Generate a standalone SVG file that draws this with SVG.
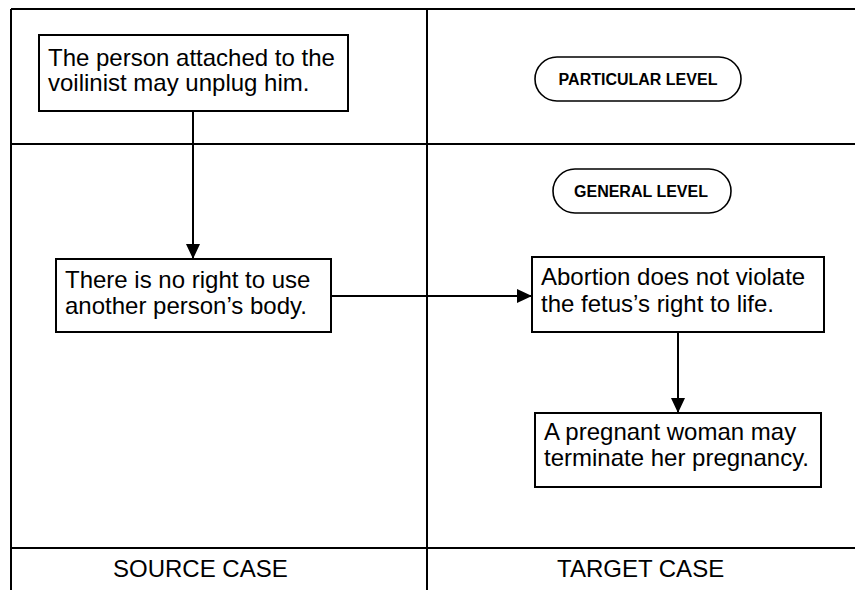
<svg xmlns="http://www.w3.org/2000/svg" width="855" height="590" viewBox="0 0 855 590">
<defs>
<style>
.frame{stroke:#000;stroke-width:2;fill:none}
.box{fill:#fff;stroke:#000;stroke-width:2}
.pill{fill:#fff;stroke:#000;stroke-width:1.6}
.t{font-family:"Liberation Sans",Arial,sans-serif;font-size:24px;fill:#000}
.p{font-family:"Liberation Sans",Arial,sans-serif;font-size:16px;font-weight:bold;fill:#000;text-anchor:middle}
.c{font-family:"Liberation Sans",Arial,sans-serif;font-size:24px;fill:#000}
.conn{stroke:#000;stroke-width:2;fill:none}
</style>
<marker id="ah" markerWidth="15" markerHeight="14" refX="15" refY="7" orient="auto" markerUnits="userSpaceOnUse">
<path d="M0,0 L15,7 L0,14 Z" fill="#000"/>
</marker>
</defs>
<rect width="855" height="590" fill="#fff"/>
<g id="frame">
<line class="frame" x1="11" y1="9" x2="855" y2="9"/>
<line class="frame" x1="11" y1="9" x2="11" y2="590"/>
<line class="frame" x1="427" y1="9" x2="427" y2="590"/>
<line class="frame" x1="11" y1="144" x2="855" y2="144"/>
<line class="frame" x1="11" y1="548" x2="855" y2="548"/>
<text class="c" x="113" y="577">SOURCE CASE</text>
<text class="c" x="557" y="577">TARGET CASE</text>
</g>
<g id="connectors">
<line class="conn" x1="193" y1="111" x2="193" y2="259" marker-end="url(#ah)"/>
<line class="conn" x1="331" y1="296" x2="532" y2="296" marker-end="url(#ah)"/>
<line class="conn" x1="678" y1="332" x2="678" y2="413" marker-end="url(#ah)"/>
</g>
<g id="particular-level">
<rect class="pill" x="535" y="57" width="206" height="44" rx="22"/>
<text class="p" x="638" y="85">PARTICULAR LEVEL</text>
</g>
<g id="general-level">
<rect class="pill" x="553" y="169" width="178" height="44" rx="22"/>
<text class="p" x="641" y="197">GENERAL LEVEL</text>
</g>
<g id="node-unplug">
<rect class="box" x="39" y="35" width="309" height="76"/>
<text class="t" x="48" y="66">The person attached to the</text>
<text class="t" x="48" y="91">voilinist may unplug him.</text>
</g>
<g id="node-no-right">
<rect class="box" x="56" y="259" width="275" height="73"/>
<text class="t" x="65" y="288">There is no right to use</text>
<text class="t" x="65" y="314">another person’s body.</text>
</g>
<g id="node-abortion">
<rect class="box" x="532" y="257" width="292" height="75"/>
<text class="t" x="541" y="285">Abortion does not violate</text>
<text class="t" x="541" y="312">the fetus’s right to life.</text>
</g>
<g id="node-terminate">
<rect class="box" x="535" y="413" width="286" height="74"/>
<text class="t" x="544" y="440">A pregnant woman may</text>
<text class="t" x="544" y="466">terminate her pregnancy.</text>
</g>
</svg>
